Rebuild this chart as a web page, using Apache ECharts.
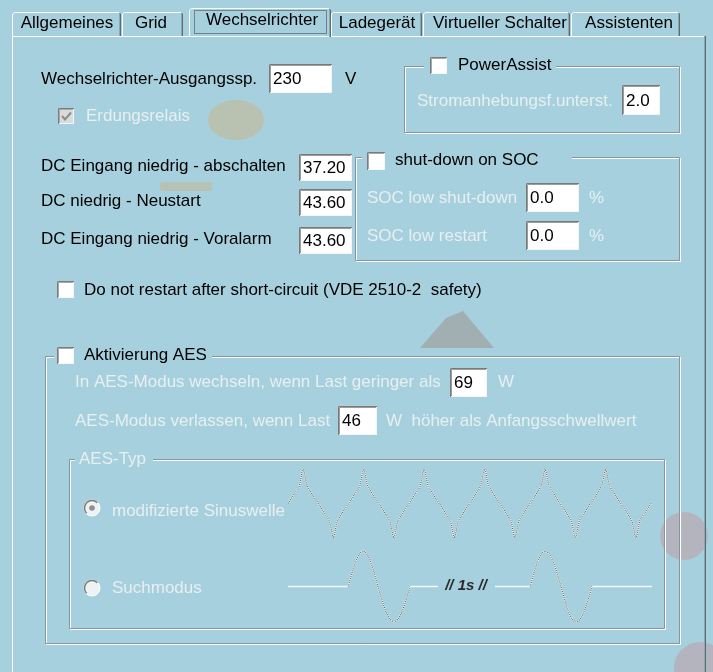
<!DOCTYPE html>
<html><head><meta charset="utf-8">
<script src="https://cdn.jsdelivr.net/npm/echarts@6/dist/echarts.min.js"></script>
<style>html,body{margin:0;padding:0;background:#a6d0de}#c{width:713px;height:672px}</style>
</head><body><div id="c"></div>
<script>
// ---------------- data ----------------
const tabLabels = ['Allgemeines', 'Grid', 'Wechselrichter', 'Ladegerät', 'Virtueller Schalter', 'Assistenten'];
const selectedTab = 2;
const outputLabel = 'Wechselrichter-Ausgangssp.';
const outputValue = '230';
const outputUnit = 'V';
const groundRelayLabel = 'Erdungsrelais';
const powerAssistLabels = ['PowerAssist', 'Stromanhebungsf.unterst.'];
const powerAssistValue = '2.0';
const dcLabels = ['DC Eingang niedrig - abschalten', 'DC niedrig - Neustart', 'DC Eingang niedrig - Voralarm'];
const dcValues = ['37.20', '43.60', '43.60'];
const socTitle = 'shut-down on SOC';
const socLabels = ['SOC low shut-down', 'SOC low restart'];
const socValues = ['0.0', '0.0'];
const socUnit = '%';
const shortCircuitLabel = 'Do not restart after short-circuit (VDE 2510-2  safety)';
const aesTitle = 'Aktivierung AES';
const aesLabels = ['In AES-Modus wechseln, wenn Last geringer als', 'AES-Modus verlassen, wenn Last'];
const aesValues = ['69', '46'];
const aesUnits = ['W', 'W  höher als Anfangsschwellwert'];
const aesTypeTitle = 'AES-Typ';
const aesTypeLabels = ['modifizierte Sinuswelle', 'Suchmodus'];
const searchGapLabel = '// 1s //';

// modified sine wave: [time ms, relative amplitude]
const modSine = [
  [0,0],
  [3,0.40],[3.7,0.50],[4.2,0.70],[4.6,0.90],[5,1],[5.4,0.90],[5.8,0.70],[6.3,0.50],[7,0.40],
  [13,-0.40],[13.7,-0.50],[14.2,-0.70],[14.6,-0.90],[15,-1],[15.4,-0.90],[15.8,-0.70],[16.3,-0.50],[17,-0.40],
  [23,0.40],[23.7,0.50],[24.2,0.70],[24.6,0.90],[25,1],[25.4,0.90],[25.8,0.70],[26.3,0.50],[27,0.40],
  [33,-0.40],[33.7,-0.50],[34.2,-0.70],[34.6,-0.90],[35,-1],[35.4,-0.90],[35.8,-0.70],[36.3,-0.50],[37,-0.40],
  [43,0.40],[43.7,0.50],[44.2,0.70],[44.6,0.90],[45,1],[45.4,0.90],[45.8,0.70],[46.3,0.50],[47,0.40],
  [53,-0.40],[53.7,-0.50],[54.2,-0.70],[54.6,-0.90],[55,-1],[55.4,-0.90],[55.8,-0.70],[56.3,-0.50],[57,-0.40],
  [63,0.40],[63.7,0.50],[64.2,0.70],[64.6,0.90],[65,1],[65.4,0.90],[65.8,0.70],[66.3,0.50],[67,0.40],
  [73,-0.40],[73.7,-0.50],[74.2,-0.70],[74.6,-0.90],[75,-1],[75.4,-0.90],[75.8,-0.70],[76.3,-0.50],[77,-0.40],
  [83,0.40],[83.7,0.50],[84.2,0.70],[84.6,0.90],[85,1],[85.4,0.90],[85.8,0.70],[86.3,0.50],[87,0.40],
  [93,-0.40],[93.7,-0.50],[94.2,-0.70],[94.6,-0.90],[95,-1],[95.4,-0.90],[95.8,-0.70],[96.3,-0.50],[97,-0.40],
  [103,0.40],[103.7,0.50],[104.2,0.70],[104.6,0.90],[105,1],[105.4,0.90],[105.8,0.70],[106.3,0.50],[107,0.40],
  [113,-0.40],[113.7,-0.50],[114.2,-0.70],[114.6,-0.90],[115,-1],[115.4,-0.90],[115.8,-0.70],[116.3,-0.50],[117,-0.40],
  [120,0]
];
// search mode: flat parts and single sine bursts
const searchFlat = [[0,0],[60,0],null,[122,0],[150,0],null,[207,0],[242,0],null,[304,0],[364,0]];
const searchWave = [
  [60,0],[64,0.38],[67.8,0.71],[71.6,0.92],[75,1],[78.6,0.92],[82.4,0.71],[86.2,0.38],[90,0],
  [94,-0.38],[98,-0.71],[102,-0.92],[106,-1],[110,-0.92],[114,-0.71],[118,-0.38],[122,0],
  null,
  [242,0],[246,0.38],[249.6,0.71],[253.4,0.92],[257,1],[261,0.92],[265,0.71],[269,0.38],[273,0],
  [276.8,-0.38],[280.5,-0.71],[284.2,-0.92],[288,-1],[292,-0.92],[296,-0.71],[300,-0.38],[304,0]
];

// ---------------- drawing helpers ----------------
const FONT = '"Liberation Sans", Arial, Helvetica, sans-serif';
const BG = '#a6d0de';
const els = [];
function txt(x, y, s, o) {
  o = o || {};
  const st = {
    text: s, x: x, y: y,
    fill: o.fill || (o.disabled ? '#e7eff1' : '#000'),
    font: (o.style || '') + ' ' + (o.size || 17) + 'px ' + FONT,
    textAlign: o.align || 'left', align: o.align || 'left',
    textVerticalAlign: 'middle', verticalAlign: 'middle'
  };
  if (o.disabled) {
    st.textShadowColor = 'rgba(85,110,120,0.65)';
    st.textShadowOffsetX = 1; st.textShadowOffsetY = 1; st.textShadowBlur = 0;
  }
  els.push({ type: 'text', z: 20, style: st });
}
function rect(x, y, w, h, fill, stroke, z) {
  els.push({ type: 'rect', z: z || 5, shape: { x: x, y: y, width: w, height: h },
    style: { fill: fill || null, stroke: stroke || null, lineWidth: 1 } });
}
function line(pts, stroke, z, w) {
  els.push({ type: 'polyline', z: z || 6, shape: { points: pts },
    style: { fill: null, stroke: stroke, lineWidth: w || 1 } });
}
function input(x, y, w, h, val) {
  rect(x, y, w, h, '#ffffff', null, 7);
  line([[x + 0.5, y + h], [x + 0.5, y + 0.5], [x + w, y + 0.5]], '#7a7a7a', 8);
  line([[x + 1.5, y + h - 1], [x + 1.5, y + 1.5], [x + w - 1, y + 1.5]], '#9c9c9c', 8);
  line([[x + 1, y + h - 0.5], [x + w - 0.5, y + h - 0.5], [x + w - 0.5, y + 1]], '#f4f4f4', 8);
  txt(x + 4, y + h / 2 + 1, val);
}
function checkbox(x, y, s, checked, disabled) {
  rect(x, y, s, s, disabled && checked ? '#d9dcdc' : '#ffffff', null, 7);
  line([[x + 0.5, y + s], [x + 0.5, y + 0.5], [x + s, y + 0.5]], '#7c7c7c', 8);
  line([[x + 1.5, y + s - 1], [x + 1.5, y + 1.5], [x + s - 1, y + 1.5]], '#a8a8a8', 8);
  line([[x + 1, y + s - 0.5], [x + s - 0.5, y + s - 0.5], [x + s - 0.5, y + 1]], '#f4f7f7', 8);
  if (checked) line([[x + 4, y + 8], [x + 7, y + 11.5], [x + 13, y + 4.5]], '#8c8c8c', 9, 2);
}
function group(x, y, w, h) {
  rect(x + 1.5, y + 1.5, w - 1, h - 1, null, '#ffffff', 4);
  rect(x + 0.5, y + 0.5, w - 1, h - 1, null, '#8497a0', 4);
}
function mask(x, y, w, h) { rect(x, y, w, h, BG, null, 5); }
function radio(cx, cy, sel) {
  els.push({ type: 'circle', z: 7, shape: { cx: cx, cy: cy, r: 8 }, style: { fill: '#eef2f3', stroke: '#ffffff', lineWidth: 1 } });
  els.push({ type: 'arc', z: 8, shape: { cx: cx, cy: cy, r: 7.5, startAngle: Math.PI * 0.75, endAngle: Math.PI * 1.75, clockwise: true },
    style: { fill: null, stroke: '#7c7c7c', lineWidth: 1.5 } });
  if (sel) els.push({ type: 'circle', z: 9, shape: { cx: cx, cy: cy, r: 2.8 }, style: { fill: '#8f8f8f' } });
}

// ---------------- background decoration ----------------
els.push({ type: 'ellipse', z: 1, shape: { cx: 236, cy: 120, rx: 28, ry: 20 }, style: { fill: 'rgba(214,170,110,0.4)' } });
els.push({ type: 'rect', z: 1, shape: { x: 160, y: 182, width: 52, height: 9, r: 3 }, style: { fill: 'rgba(214,170,110,0.35)' } });
els.push({ type: 'polygon', z: 1, shape: { points: [[420, 348], [446, 318], [463, 311], [494, 348]] }, style: { fill: 'rgba(160,166,168,0.8)' } });
els.push({ type: 'circle', z: 1, shape: { cx: 684, cy: 536, r: 24 }, style: { fill: 'rgba(205,130,135,0.35)' } });
els.push({ type: 'circle', z: 1, shape: { cx: 700, cy: 668, r: 26 }, style: { fill: 'rgba(205,130,135,0.35)' } });

// ---------------- tabs & panel ----------------
const tabX = [[12, 121], [122, 183], [189, 331], [331, 422], [423, 570], [571, 680]];
const tabTextX = [67, 151, 262, 377, 500, 629];
line([[12, 36.5], [705, 36.5]], '#ffffff', 6);
line([[12.5, 36], [12.5, 672]], '#ffffff', 6);
line([[704.5, 36], [704.5, 672]], '#88a8b2', 6);
line([[705.5, 36], [705.5, 672]], '#5e6c72', 6);
tabLabels.forEach(function (lab, i) {
  const x0 = tabX[i][0], x1 = tabX[i][1];
  const sel = i === selectedTab;
  const top = sel ? 8 : 12;
  const bot = sel ? 37 : 36;
  if (sel) mask(x0, top, x1 - x0, 30);
  line([[x0 + 0.5, bot], [x0 + 0.5, top + 2], [x0 + 2.5, top + 0.5], [x1 - 2, top + 0.5]], '#ffffff', 7);
  line([[x1 - 1.5, top + 1], [x1 - 0.5, top + 2], [x1 - 0.5, bot]], '#5e6c72', 7);
  line([[x1 - 1.5, top + 2], [x1 - 1.5, bot]], '#88a8b2', 7);
  txt(tabTextX[i], sel ? 20 : 23, lab, { align: 'center' });
});
els.push({ type: 'rect', z: 9, shape: { x: 194.5, y: 10.5, width: 132, height: 23 },
  style: { fill: null, stroke: '#333', lineWidth: 1, lineDash: [1, 1] } });

// ---------------- output voltage ----------------
txt(41, 79, outputLabel);
input(269, 64, 63, 29, outputValue);
txt(345, 79, outputUnit);
checkbox(58, 108, 16, true, true);
txt(86, 116, groundRelayLabel, { disabled: true });

// ---------------- PowerAssist ----------------
group(404, 66, 276, 67);
mask(424, 56, 132, 16);
checkbox(430, 57, 17, false, false);
txt(458, 65, powerAssistLabels[0]);
txt(417, 101, powerAssistLabels[1], { disabled: true });
input(622, 85, 38, 30, powerAssistValue);

// ---------------- DC inputs ----------------
const dcY = [154, 189, 227];
dcLabels.forEach(function (lab, i) {
  txt(41, dcY[i] + 12, lab);
  input(299, dcY[i], 53, 27, dcValues[i]);
});

// ---------------- SOC ----------------
group(355, 157, 325, 104);
mask(362, 149, 210, 16);
checkbox(367, 152, 18, false, false);
txt(395, 160, socTitle);
const socY = [183, 221];
socLabels.forEach(function (lab, i) {
  txt(367, socY[i] + 15, lab, { disabled: true });
  input(526, socY[i], 53, 29, socValues[i]);
  txt(589, socY[i] + 15, socUnit, { disabled: true });
});

// ---------------- short circuit ----------------
checkbox(57, 281, 17, false, false);
txt(84, 290, shortCircuitLabel);

// ---------------- AES ----------------
group(45, 356, 635, 288);
mask(54, 344, 158, 20);
checkbox(57, 347, 17, false, false);
txt(84, 355, aesTitle);
txt(75, 382, aesLabels[0], { disabled: true });
input(450, 368, 37, 29, aesValues[0]);
txt(498, 382, aesUnits[0], { disabled: true });
txt(75, 421, aesLabels[1], { disabled: true });
input(338, 406, 39, 29, aesValues[1]);
txt(386, 421, aesUnits[1], { disabled: true });

group(69, 459, 596, 170);
mask(75, 450, 78, 16);
txt(79, 459, aesTypeTitle, { disabled: true });
radio(92, 508, true);
txt(112, 511, aesTypeLabels[0], { disabled: true });
radio(92, 588, false);
txt(112, 588, aesTypeLabels[1], { disabled: true });
txt(466, 586, searchGapLabel, { style: 'italic bold', size: 15, fill: '#2a2a2a', align: 'center' });

// ---------------- chart ----------------
const chart = echarts.init(document.getElementById('c'));
const base = { type: 'line', symbol: 'none', silent: true, animation: false, connectNulls: false };
const whiteLine = { color: '#f4f8f9', width: 1.5 };
const dotLine = { color: '#4f5f66', width: 1.1, type: [1, 1] };
chart.setOption({
  backgroundColor: BG,
  animation: false,
  grid: [
    { left: 288, top: 469, width: 363, height: 69 },
    { left: 288, top: 551, width: 364, height: 71 }
  ],
  xAxis: [
    { gridIndex: 0, type: 'value', min: 0, max: 120, show: false },
    { gridIndex: 1, type: 'value', min: 0, max: 364, show: false }
  ],
  yAxis: [
    { gridIndex: 0, type: 'value', min: -1, max: 1, show: false },
    { gridIndex: 1, type: 'value', min: -1, max: 1, show: false }
  ],
  series: [
    Object.assign({}, base, { xAxisIndex: 0, yAxisIndex: 0, data: modSine, z: 3, lineStyle: whiteLine }),
    Object.assign({}, base, { xAxisIndex: 0, yAxisIndex: 0, data: modSine, z: 4, lineStyle: dotLine }),
    Object.assign({}, base, { xAxisIndex: 1, yAxisIndex: 1, data: searchFlat, z: 3, lineStyle: whiteLine }),
    Object.assign({}, base, { xAxisIndex: 1, yAxisIndex: 1, data: searchWave, smooth: 0.3, z: 3, lineStyle: whiteLine }),
    Object.assign({}, base, { xAxisIndex: 1, yAxisIndex: 1, data: searchWave, smooth: 0.3, z: 4, lineStyle: dotLine })
  ],
  graphic: { elements: els }
});
</script>
</body></html>
